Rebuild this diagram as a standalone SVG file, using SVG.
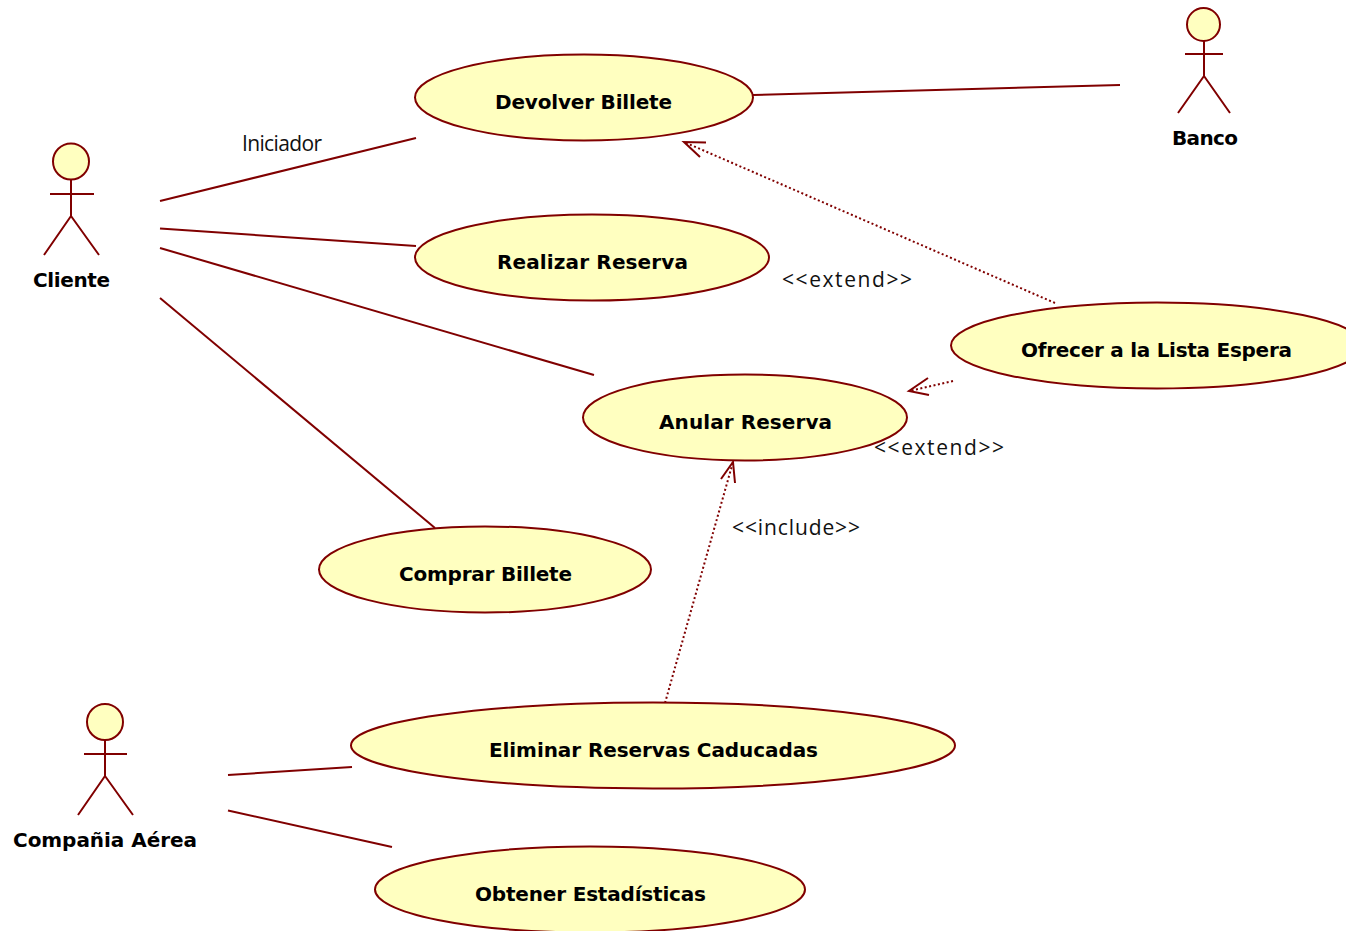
<svg xmlns="http://www.w3.org/2000/svg" width="1346" height="931" viewBox="0 0 1346 931">
<style>
text{font-family:"Open Sans","DejaVu Sans",sans-serif;font-size:21px;fill:#111}
.b{font-family:"DejaVu Sans","Liberation Sans",sans-serif;font-size:20px;font-weight:bold;fill:#000}
.u ellipse{fill:#ffffc0;stroke:#800000;stroke-width:2}
.a circle{fill:#ffffc0;stroke:#800000;stroke-width:2}
.a path{fill:none;stroke:#800000;stroke-width:2}
.c{fill:none;stroke:#800000;stroke-width:2}
.d{fill:none;stroke:#800000;stroke-width:2;stroke-dasharray:2 2.500}
</style>
<rect width="1346" height="931" fill="#fff"/>
<g id="connectors">
<path class="c" d="M160 201L416 138"/>
<path class="c" d="M160 228.500L416 246"/>
<path class="c" d="M160 248L594 375"/>
<path class="c" d="M160 298L435 528"/>
<path class="c" d="M753 95L1120 85"/>
<path class="c" d="M228 775L352 767"/>
<path class="c" d="M228 810.500L392 847"/>
<path class="d" d="M1055 303L684 142"/>
<path class="c" d="M706 142.500L684 142L700 157"/>
<path class="d" d="M953 381L909 391"/>
<path class="c" d="M928 378L909 391L929 395"/>
<path class="d" d="M665 703L733 462"/>
<path class="c" d="M721 479L733 462L735 483"/>
</g>
<g id="devolver" class="u"><ellipse cx="584" cy="97.500" rx="169" ry="43"/><text class="b" x="495" y="109" textLength="177">Devolver Billete</text></g>
<g id="realizar" class="u"><ellipse cx="592" cy="257.500" rx="177" ry="43"/><text class="b" x="497" y="269" textLength="191">Realizar Reserva</text></g>
<g id="anular" class="u"><ellipse cx="745" cy="417.500" rx="162" ry="43"/><text class="b" x="659" y="429" textLength="173">Anular Reserva</text></g>
<g id="ofrecer" class="u"><ellipse cx="1157" cy="345.500" rx="206" ry="43"/><text class="b" x="1021" y="357" textLength="271">Ofrecer a la Lista Espera</text></g>
<g id="comprar" class="u"><ellipse cx="485" cy="569.500" rx="166" ry="43"/><text class="b" x="399" y="581" textLength="173">Comprar Billete</text></g>
<g id="eliminar" class="u"><ellipse cx="653" cy="745.500" rx="302" ry="43"/><text class="b" x="489" y="757" textLength="329">Eliminar Reservas Caducadas</text></g>
<g id="obtener" class="u"><ellipse cx="590" cy="889.500" rx="215" ry="43"/><text class="b" x="475" y="901" textLength="231">Obtener Estadísticas</text></g>
<g id="cliente" class="a"><circle cx="71" cy="161.500" r="18"/><path d="M71 179V216M50 194H94M71 216L44 255M71 216L99 255"/><text class="b" x="33" y="287" textLength="77">Cliente</text></g>
<g id="banco" class="a"><circle cx="1203.500" cy="24.500" r="16.500"/><path d="M1204 41V76M1185 54H1223M1204 76L1178 113M1204 76L1230 113"/><text class="b" x="1172" y="145" textLength="66">Banco</text></g>
<g id="compania" class="a"><circle cx="105" cy="722" r="18"/><path d="M105 740V776M84 754H127M105 776L78 815M105 776L133 815"/><text class="b" x="13" y="847" textLength="184">Compañia Aérea</text></g>
<text x="242" y="151" textLength="80">Iniciador</text>
<text x="782" y="287" textLength="130">&lt;&lt;extend&gt;&gt;</text>
<text x="874" y="455" textLength="130">&lt;&lt;extend&gt;&gt;</text>
<text x="732" y="535" textLength="128">&lt;&lt;include&gt;&gt;</text>
</svg>
